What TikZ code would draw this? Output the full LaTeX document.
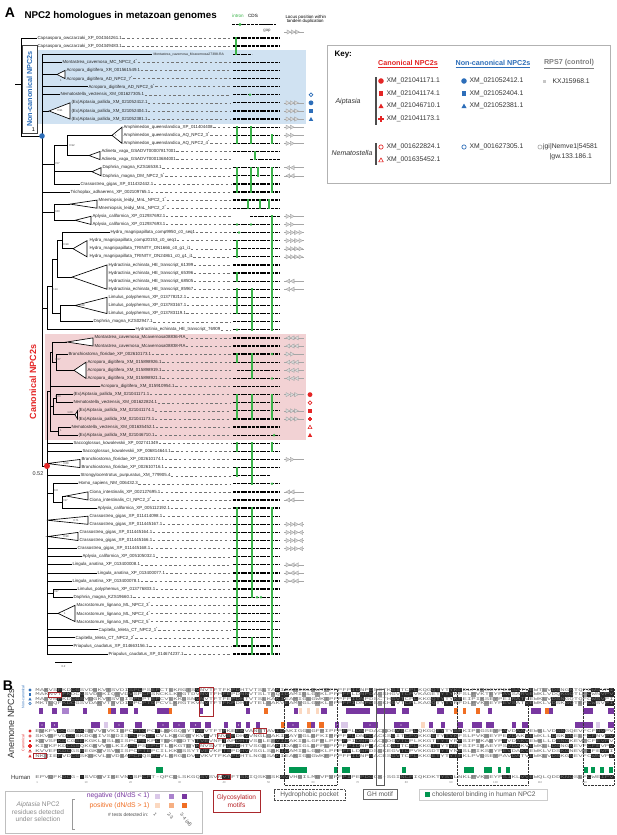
\documentclass[tikz,border=0pt]{standalone}
\usepackage{fontspec}
\setmainfont{Liberation Sans}
\newfontfamily\alnfont[Ligatures=TeXOff]{Liberation Mono}
\usetikzlibrary{calc}
\definecolor{ncblue}{RGB}{45,110,185}
\definecolor{canred}{RGB}{228,38,38}
\definecolor{ncbg}{RGB}{208,226,242}
\definecolor{canbg}{RGB}{242,210,212}
\definecolor{introncol}{RGB}{60,180,75}
\definecolor{selP}{RGB}{120,55,160}
\definecolor{selMP}{RGB}{170,130,205}
\definecolor{selLP}{RGB}{218,200,232}
\definecolor{selO}{RGB}{240,110,35}
\definecolor{selMO}{RGB}{246,175,130}
\definecolor{selLO}{RGB}{251,216,192}
\definecolor{cholgreen}{RGB}{0,150,80}
\definecolor{glycred}{RGB}{170,40,45}
\newcommand\rowy[1]{38+(#1-1)*8.105}
\newcommand\astk{\textsuperscript{*}}
\newcommand\leafl[4]{\node[leaflbl] (#1) at (#3,{\rowy{#2}}) {#4};\draw[dashline] (#1.east) -- (231,{\rowy{#2}});}
\newcommand\cladetri[5]{\draw[brl,fill=white] (#1,#2) -- (#3,{\rowy{#4}}) -- (#3,{\rowy{#5}}) -- cycle;}
\newcommand\locusarr[2]{\draw[gray!70,line width=0.4pt] (284,{\rowy{#1}}) -- (304,{\rowy{#1}});
  \foreach \d [count=\k] in {#2}{\if\d R\pic at ({286+(\k-1)*4.3},{\rowy{#1}}) {arrR};\else\pic at ({286+(\k-1)*4.3},{\rowy{#1}}) {arrL};\fi}}
\newcommand\alnrow[3]{%
  \foreach \c in {5,6,7,8,9,10,21,22,23,24,25,26,27,36,37,38,42,43,44,45,46,47,54,55,56,69,70,71,72,73,74,75,80,81,82,83,84,85,89,90,91,92,93,94,95,105,106,107,108,109,110,111,116,117,118,119,120,124,125,126,127,128,129}{%
    \pgfmathtruncatemacro\m{mod(\c*7+#2*5,9)}%
    \ifnum\m>3 \fill[black!85] ({35+\c*4.45},{#1-2.2}) rectangle ++(4.45,4.4);\fi}%
  \foreach \c in {1,2,3,12,13,14,15,16,17,18,19,29,30,31,32,33,34,50,51,52,53,58,59,60,61,62,63,64,65,66,77,78,98,99,100,101,102,103,113,114,122,123}{%
    \pgfmathtruncatemacro\m{mod(\c*5+#2*3,7)}%
    \ifnum\m>4 \fill[black!40] ({35+\c*4.45},{#1-2.2}) rectangle ++(4.45,4.4);\fi}%
  \node[aln] at (35,#1) {#3};}
\begin{document}
\begin{tikzpicture}[x=1pt,y=-1pt,
  leaflbl/.style={anchor=west,inner sep=0.3pt,font=\fontsize{4.4}{4.4}\selectfont,text=black!85},
  dashline/.style={black!55,line width=0.3pt,dash pattern=on 2.4pt off 2.4pt},
  brl/.style={line width=0.65pt,black},
  cdsline/.style={line width=1.3pt,black,dash pattern=on 3pt off 0.8pt},
  intronbar/.style={introncol,line width=1.8pt,line cap=rect},
  suppval/.style={font=\fontsize{2.8}{2.8}\selectfont,inner sep=0.2pt,text=black!70},
  keyitem/.style={anchor=west,inner sep=0.5pt,font=\fontsize{6.8}{6.8}\selectfont,text=black!80},
  keyhead/.style={font=\bfseries\fontsize{7.2}{7.2}\selectfont},
  aln/.style={anchor=west,inner sep=0pt,font=\alnfont\fontsize{4.2}{4.2}\selectfont,text=black!55,xscale=1.766},
  legtxt/.style={font=\fontsize{6.6}{7.4}\selectfont,align=center},
  mcirc/.pic={\fill (0,0) circle (1.15);},
  mocirc/.pic={\draw[line width=0.65pt] (0,0) circle (0.9);},
  msq/.pic={\fill (-0.9,-0.9) rectangle (0.9,0.9);},
  mtri/.pic={\fill (-1.05,0.85) -- (1.05,0.85) -- (0,-1.0) -- cycle;},
  motri/.pic={\draw[line width=0.6pt,line join=round] (-0.95,0.78) -- (0.95,0.78) -- (0,-0.9) -- cycle;},
  mplus/.pic={\fill (0,0) circle (0.72); \fill (-1.05,-0.38) rectangle (1.05,0.38); \fill (-0.38,-1.05) rectangle (0.38,1.05);},
  arrR/.pic={\filldraw[fill=gray!30,draw=gray!75,line width=0.3pt] (0,-2.1) -- (3.8,0) -- (0,2.1) -- cycle;},
  arrL/.pic={\filldraw[fill=gray!30,draw=gray!75,line width=0.3pt] (3.8,-2.1) -- (0,0) -- (3.8,2.1) -- cycle;}
]
\useasboundingbox (0,0) rectangle (617,835);
\fill[white] (0,0) rectangle (617,835);

% ---------- title and top legend
\node[font=\bfseries\fontsize{14}{14}\selectfont] (Alab) at (10,13) {A};
\node[anchor=west,font=\bfseries\fontsize{9.8}{9.8}\selectfont] (title) at (21,15.5) {NPC2 homologues in metazoan genomes};
\node[font=\fontsize{4.6}{4.6}\selectfont,text=introncol] (intlab) at (238,16) {intron};
\node[font=\fontsize{4.6}{4.6}\selectfont] (cdslab) at (253,16) {CDS};
\draw[cdsline] (232,24.5) -- (262,24.5);
\draw[black,line width=0.4pt] (262,24.5) -- (270,24.5);
\draw[cdsline] (270,24.5) -- (276,24.5);
\fill[introncol] (240,24.5) circle (1.7);
\node[font=\fontsize{4.3}{4.3}\selectfont,text=black!70] (gaplab) at (267,30.5) {gap};
\node[anchor=west,font=\fontsize{4.4}{4.4}\selectfont,align=left] (loclab) at (282,19.5) {Locus position within\\ \ tandem duplication};
\draw[gray!70,line width=0.4pt] (284,32) -- (304,32);
\foreach \k in {0,1,2} \pic at ({287+\k*4.3},32) {arrR};

% ---------- backgrounds
\fill[ncbg] (37,50) rectangle (306,123.5);
\fill[canbg] (45,334) rectangle (306,439.5);

% ---------- tree
\draw[brl] (21,38) -- (21,136);
\draw[brl] (15,84) -- (21,84);
\draw[brl] (21,{\rowy{1}}) -- (37,{\rowy{1}});
\draw[brl] (21,{\rowy{2}}) -- (37,{\rowy{2}});
\draw[brl] (21,136) -- (42,136);
\draw[brl] (42,{\rowy{3}}) -- (42,466);
% non-canonical
\draw[brl] (42,{\rowy{3}}) -- (152,{\rowy{3}});
\draw[brl] (42,{\rowy{4}}) -- (62,{\rowy{4}});
\draw[brl] (42,74.5) -- (57,74.5); \cladetri{57}{74.5}{65}{5}{6}
\draw[brl] (42,{\rowy{7}}) -- (88,{\rowy{7}});
\draw[brl] (42,{\rowy{8}}) -- (60,{\rowy{8}});
\draw[brl] (42,111) -- (49,111); \cladetri{49}{111}{70}{9}{11}
% upper groups
\draw[brl] (67,135.3) -- (67,155.5);
\draw[brl] (67,135.3) -- (112,135.3); \cladetri{112}{135.3}{122}{12}{14}
\draw[brl] (67,155.5) -- (89,155.5); \cladetri{89}{155.5}{100}{15}{16}
\draw[brl] (54,145.4) -- (54,183.9);
\draw[brl] (54,145.4) -- (67,145.4);
\draw[brl] (54,171.7) -- (92,171.7); \cladetri{92}{171.7}{101}{17}{18}
\draw[brl] (54,183.9) -- (80,183.9);
\draw[brl] (42,164.6) -- (54,164.6);
\draw[brl] (42,192) -- (70,192);
\draw[brl] (54,204.1) -- (54,220.3);
\draw[brl] (54,204.1) -- (70,204.1); \cladetri{70}{204.1}{97}{21}{22}
\draw[brl] (54,220.3) -- (75,220.3); \cladetri{75}{220.3}{91}{23}{24}
\draw[brl] (42,212.2) -- (54,212.2);
\draw[brl] (62,232.5) -- (62,248.7);
\draw[brl] (62,232.5) -- (110,232.5);
\draw[brl] (62,248.7) -- (73,248.7); \cladetri{73}{248.7}{87}{26}{28}
\draw[brl] (57,240.6) -- (57,277.1);
\draw[brl] (57,240.6) -- (62,240.6);
\draw[brl] (57,277.1) -- (72,277.1); \cladetri{72}{277.1}{107}{29}{32}
\draw[brl] (60,305.5) -- (60,321.7);
\draw[brl] (60,305.5) -- (75,305.5); \cladetri{75}{305.5}{107}{33}{35}
\draw[brl] (60,321.7) -- (93,321.7);
\draw[brl] (52,258.9) -- (52,313.6);
\draw[brl] (52,258.9) -- (57,258.9);
\draw[brl] (52,313.6) -- (60,313.6);
\draw[brl] (47,286.3) -- (47,329.8);
\draw[brl] (47,286.3) -- (52,286.3);
\draw[brl] (47,329.8) -- (135,329.8);
\draw[brl] (42,308) -- (47,308);
% canonical
\draw[brl] (52,342) -- (67,342); \cladetri{67}{342}{93}{38}{39}
\draw[brl] (56,354.1) -- (56,370.3);
\draw[brl] (56,354.1) -- (68,354.1);
\draw[brl] (56,370.3) -- (74,370.3); \cladetri{74}{370.3}{86}{41}{43}
\draw[brl] (52,342) -- (52,362.2);
\draw[brl] (52,362.2) -- (56,362.2);
\draw[brl] (50,386.5) -- (100,386.5);
\draw[brl] (56,394.6) -- (56,402.7);
\draw[brl] (56,394.6) -- (73,394.6);
\draw[brl] (56,402.7) -- (73,402.7);
\draw[brl] (53,414.8) -- (75,414.8); \cladetri{75}{414.8}{77.5}{47}{48}
\draw[brl] (53,398.6) -- (53,414.8);
\draw[brl] (53,398.6) -- (56,398.6);
\draw[brl] (58,427) -- (58,435.2);
\draw[brl] (58,427) -- (71,427);
\draw[brl] (58,435.2) -- (78,435.2);
\draw[brl] (50,352.1) -- (50,431.1);
\draw[brl] (50,352.1) -- (52,352.1);
\draw[brl] (50,406.7) -- (53,406.7);
\draw[brl] (50,431.1) -- (58,431.1);
\draw[brl] (47,391.6) -- (50,391.6);
% lower
\draw[brl] (47,391.6) -- (47,654);
\draw[brl] (42,466) -- (47,466);
\draw[brl] (47,443.3) -- (73,443.3);
\draw[brl] (47,451.4) -- (82,451.4);
\cladetri{47}{463.5}{80}{53}{54}
\draw[brl] (47,475.7) -- (80,475.7);
\draw[brl] (53,483.8) -- (53,502);
\draw[brl] (53,483.8) -- (78,483.8);
\draw[brl] (47,493) -- (53,493);
\draw[brl] (62,496) -- (62,508.1);
\draw[brl] (53,502) -- (62,502);
\draw[brl] (62,496) -- (66,496); \cladetri{66}{496}{88}{57}{58}
\draw[brl] (62,508.1) -- (97,508.1);
\cladetri{47}{520.2}{88}{60}{61}
\draw[brl] (47,536.5) -- (48,536.5); \cladetri{48}{536.5}{78}{62}{63}
\draw[brl] (47,548.6) -- (77,548.6);
\draw[brl] (47,556.7) -- (82,556.7);
\draw[brl] (47,564.8) -- (72,564.8);
\draw[brl] (47,572.9) -- (97,572.9);
\draw[brl] (47,581) -- (72,581);
\draw[brl] (53,589.1) -- (53,597.2);
\draw[brl] (47,593.2) -- (53,593.2);
\draw[brl] (53,589.1) -- (77,589.1);
\draw[brl] (53,597.2) -- (73,597.2);
\draw[brl] (47,613.4) -- (58,613.4); \cladetri{58}{613.4}{75}{71}{73}
\draw[brl] (47,629.6) -- (98,629.6);
\draw[brl] (47,637.7) -- (75,637.7);
\draw[brl] (47,645.8) -- (73,645.8);
\draw[brl] (47,654) -- (108,654);
% scale bar
\draw[brl] (55,662) -- (72,662);
\node[suppval] (scl) at (63.5,667) {0.2};

% support values
\foreach \x/\y/\t in {61/81/1, 60/111/0.91, 116/135.3/1, 72/146/0.92, 57/164/0.57, 57/212/0.83, 66/245/0.99, 55/290/0.14, 82/306/0.88, 58/360/0.57, 58/397/0.63, 70/413/1.00, 61/431/1, 66/463.5/0.88, 56/491/0.8, 65/501/0.97, 76/520.2/0.71, 66/536.5/0.98, 56/592/0.97, 65/613.4/1}
  \node[suppval] at (\x,\y) {\t};

% clade labels and dots
\node[draw=black!75,fill=white,line width=0.6pt,rotate=90,minimum width=88pt,minimum height=15pt,inner sep=0pt,font=\bfseries\fontsize{7.3}{7.3}\selectfont,text=ncblue] (ncbox) at (29.5,89) {Non-canonical NPC2s};
\node[font=\fontsize{5.5}{5.5}\selectfont] (sv1) at (33.5,130) {1};
\fill[ncblue] (42,136) circle (2.8);
\node[rotate=90,font=\bfseries\fontsize{9}{9}\selectfont,text=canred] (canlab) at (33,382) {Canonical NPC2s};
\fill[canred] (47,466) circle (3);
\node[font=\fontsize{5.5}{5.5}\selectfont,text=black!80] (sv2) at (38,473.5) {0.52};

% ---------- leaves
\leafl{l1}{1}{37}{Capsaspora\_owczarzaki\_XP\_004344261.1}
\leafl{l2}{2}{37}{Capsaspora\_owczarzaki\_XP\_004349483.1}
\node[leaflbl,font=\fontsize{3.4}{3.4}\selectfont] (l3) at (153,{\rowy{3}}) {Montastrea\_cavernosa\_Mcavernosa27398-RA};
\leafl{l4}{4}{62}{Montastrea\_cavernosa\_MC\_NPC2\_4\astk}
\leafl{l5}{5}{66}{Acropora\_digitifera\_XR\_001561549.1}
\leafl{l6}{6}{66}{Acropora\_digitifera\_AD\_NPC2\_7\astk}
\leafl{l7}{7}{88}{Acropora\_digitifera\_AD\_NPC2\_6\astk}
\leafl{l8}{8}{60}{Nematostella\_vectensis\_XM\_001627305.1}
\leafl{l9}{9}{71}{(Ex)Aiptasia\_pallida\_XM\_021052412.1}
\leafl{l10}{10}{71}{(Ex)Aiptasia\_pallida\_XM\_021052404.1}
\leafl{l11}{11}{71}{(Ex)Aiptasia\_pallida\_XM\_021052381.1}
\leafl{l12}{12}{123}{Amphimedon\_queenslandica\_XP\_011404408}
\leafl{l13}{13}{123}{Amphimedon\_queenslandica\_AQ\_NPC2\_3\astk}
\leafl{l14}{14}{123}{Amphimedon\_queenslandica\_AQ\_NPC2\_4\astk}
\leafl{l15}{15}{101}{Adineta\_vaga\_GSADVT00007817001}
\leafl{l16}{16}{101}{Adineta\_vaga\_GSADVT00013684001}
\leafl{l17}{17}{102}{Daphnia\_magna\_KZS16538.1}
\leafl{l18}{18}{102}{Daphnia\_magna\_DM\_NPC2\_5\astk}
\leafl{l19}{19}{80}{Crassostrea\_gigas\_XP\_011432442.1}
\leafl{l20}{20}{70}{Trichoplax\_adhaerens\_XP\_002109765.1}
\leafl{l21}{21}{98}{Mnemiopsis\_leidyi\_MnL\_NPC2\_1\astk}
\leafl{l22}{22}{98}{Mnemiopsis\_leidyi\_MnL\_NPC2\_2\astk}
\leafl{l23}{23}{92}{Aplysia\_californica\_XP\_012937692.1}
\leafl{l24}{24}{92}{Aplysia\_californica\_XP\_012937693.1}
\leafl{l25}{25}{110}{Hydra\_magnipapillata\_comp9950\_c0\_seq1}
\leafl{l26}{26}{89}{Hydra\_magnipapillata\_comp20153\_c0\_seq1}
\leafl{l27}{27}{89}{Hydra\_magnipapillata\_TRINITY\_DN1666\_c0\_g1\_i1}
\leafl{l28}{28}{89}{Hydra\_magnipapillata\_TRINITY\_DN24861\_c0\_g1\_i1}
\leafl{l29}{29}{108}{Hydractinia\_echinata\_HE\_transcript\_61399}
\leafl{l30}{30}{108}{Hydractinia\_echinata\_HE\_transcript\_65396}
\leafl{l31}{31}{108}{Hydractinia\_echinata\_HE\_transcript\_68505}
\leafl{l32}{32}{108}{Hydractinia\_echinata\_HE\_transcript\_85967}
\leafl{l33}{33}{108}{Limulus\_polyphemus\_XP\_013778212.1}
\leafl{l34}{34}{108}{Limulus\_polyphemus\_XP\_013783167.1}
\leafl{l35}{35}{108}{Limulus\_polyphemus\_XP\_013783119.1}
\leafl{l36}{36}{93}{Daphnia\_magna\_KZS02947.1}
\leafl{l37}{37}{135}{Hydractinia\_echinata\_HE\_transcript\_76909}
\leafl{l38}{38}{94}{Montastrea\_cavernosa\_Mcavernosa08836-RA}
\leafl{l39}{39}{94}{Montastrea\_cavernosa\_Mcavernosa08838-RA}
\leafl{l40}{40}{68}{Branchiostoma\_floridae\_XP\_002610173.1}
\leafl{l41}{41}{87}{Acropora\_digitifera\_XM\_015898926.1}
\leafl{l42}{42}{87}{Acropora\_digitifera\_XM\_015898919.1}
\leafl{l43}{43}{87}{Acropora\_digitifera\_XM\_015898921.1}
\leafl{l44}{44}{100}{Acropora\_digitifera\_XM\_015910954.1}
\leafl{l45}{45}{73}{(Ex)Aiptasia\_pallida\_XM\_021041171.1}
\leafl{l46}{46}{73}{Nematostella\_vectensis\_XM\_001622824.1}
\leafl{l47}{47}{78}{(Ex)Aiptasia\_pallida\_XM\_021041174.1}
\leafl{l48}{48}{78}{(Ex)Aiptasia\_pallida\_XM\_021041173.1}
\leafl{l49}{49}{71}{Nematostella\_vectensis\_XM\_001635452.1}
\leafl{l50}{50}{78}{(Ex)Aiptasia\_pallida\_XM\_021046710.1}
\leafl{l51}{51}{73}{Saccoglossus\_kowalevskii\_XP\_002741349}
\leafl{l52}{52}{82}{Saccoglossus\_kowalevskii\_XP\_006814644.1}
\leafl{l53}{53}{81}{Branchiostoma\_floridae\_XP\_002610174.1}
\leafl{l54}{54}{81}{Branchiostoma\_floridae\_XP\_002610716.1}
\leafl{l55}{55}{80}{Strongylocentrotus\_purpuratus\_XM\_779905.4}
\leafl{l56}{56}{78}{Homo\_sapiens\_NM\_006432.3}
\leafl{l57}{57}{89}{Ciona\_intestinalis\_XP\_002127695.1}
\leafl{l58}{58}{89}{Ciona\_intestinalis\_CI\_NPC2\_2\astk}
\leafl{l59}{59}{97}{Aplysia\_californica\_XP\_005112192.1}
\leafl{l60}{60}{89}{Crassostrea\_gigas\_XP\_011414098.1}
\leafl{l61}{61}{89}{Crassostrea\_gigas\_XP\_011445167.1}
\leafl{l62}{62}{79}{Crassostrea\_gigas\_XP\_011445164.1}
\leafl{l63}{63}{79}{Crassostrea\_gigas\_XP\_011445166.1}
\leafl{l64}{64}{77}{Crassostrea\_gigas\_XP\_011445168.1}
\leafl{l65}{65}{82}{Aplysia\_californica\_XP\_005105032.1}
\leafl{l66}{66}{72}{Lingula\_anatina\_XP\_013400008.1}
\leafl{l67}{67}{97}{Lingula\_anatina\_XP\_013400077.1}
\leafl{l68}{68}{72}{Lingula\_anatina\_XP\_013400078.1}
\leafl{l69}{69}{77}{Limulus\_polyphemus\_XP\_013776833.1}
\leafl{l70}{70}{73}{Daphnia\_magna\_KZS19660.1}
\leafl{l71}{71}{76}{Macrostomum\_lignano\_ML\_NPC2\_3\astk}
\leafl{l72}{72}{76}{Macrostomum\_lignano\_ML\_NPC2\_4\astk}
\leafl{l73}{73}{76}{Macrostomum\_lignano\_ML\_NPC2\_5\astk}
\leafl{l74}{74}{98}{Capitella\_teleta\_CT\_NPC2\_1\astk}
\leafl{l75}{75}{75}{Capitella\_teleta\_CT\_NPC2\_2\astk}
\leafl{l76}{76}{73}{Priapulus\_caudatus\_XP\_014663156.1}
\leafl{l77}{77}{108}{Priapulus\_caudatus\_XP\_014674237.1}

% ---------- gene structures
\foreach \r in {1,...,77}{%
  \pgfmathtruncatemacro\sk{(\r==3)||(\r==16)||(\r==23)||(\r==42)||(\r==55)}%
  \ifnum\sk=0 \draw[cdsline] (233,{\rowy{\r}}) -- (280,{\rowy{\r}});\fi}
\foreach \r/\a/\b in {3/233/252, 16/250/280, 23/250/280, 42/237/280, 55/233/270}
  \draw[cdsline] (\a,{\rowy{\r}}) -- (\b,{\rowy{\r}});
\foreach \x/\a/\b in {236/1/3, 237/12/14, 251/12/14, 272/13/14, 255/15/16, 237/17/20, 251/17/20, 258/17/18, 272/17/20, 248/21/22, 260/21/22, 269/21/22, 272/23/37, 237/26/28, 237/30/31, 237/32/35, 252/32/37, 237/40/41, 252/40/43, 237/45/48, 252/45/48, 272/45/48, 237/51/52, 252/51/56, 272/51/52, 237/54/55, 237/59/76, 252/59/70, 252/75/77, 272/59/77}
  \draw[intronbar] (\x,{\rowy{\a}}) -- (\x,{\rowy{\b}});
\foreach \x/\r in {250/8, 237/24, 251/24, 239/25, 237/37, 272/40, 272/43, 274/50, 272/56, 257/70, 261/70}
  \fill[introncol] (\x,{\rowy{\r}}) circle (1.4);

% ---------- locus arrows
\foreach \r in {9,10,11,45,47,48} {\locusarr{\r}{R,R,R}}
\foreach \r in {12,13,14,23,24,40,53} {\locusarr{\r}{R,R}}
\foreach \r in {17,18,31,32,57,58} {\locusarr{\r}{L,L}}
\foreach \r in {25,26,27,28} {\locusarr{\r}{R,R,R,R}}
\foreach \r in {38,39,41,42,43} {\locusarr{\r}{L,L,L}}
\foreach \r in {61,62,63,64} {\locusarr{\r}{R,R,R,L}}
\foreach \r in {66,67,68} {\locusarr{\r}{R,L,L}}

% ---------- right-side markers
\pic[ncblue,scale=2.1] at (311,{\rowy{8}}) {mocirc};
\pic[ncblue,scale=2.1] at (311,{\rowy{9}}) {mcirc};
\pic[ncblue,scale=2.1] at (311,{\rowy{10}}) {msq};
\pic[ncblue,scale=2.1] at (311,{\rowy{11}}) {mtri};
\pic[canred,scale=2.1] at (310,{\rowy{45}}) {mcirc};
\pic[canred,scale=2.1] at (310,{\rowy{46}}) {mocirc};
\pic[canred,scale=2.1] at (310,{\rowy{47}}) {msq};
\pic[canred,scale=2.1] at (310,{\rowy{48}}) {mplus};
\pic[canred,scale=2.1] at (310,{\rowy{49}}) {motri};
\pic[canred,scale=2.1] at (310,{\rowy{50}}) {mtri};

% ---------- key box
\draw[gray!60,line width=0.7pt] (327,45) rectangle (610,183);
\node[anchor=west,font=\bfseries\fontsize{8}{8}\selectfont] (keyt) at (331,55) {Key:};
\node[keyhead,text=canred] (kh1) at (408,64) {\underline{Canonical NPC2s}};
\node[keyhead,text=ncblue] (kh2) at (493,64) {\underline{Non-canonical NPC2s}};
\node[keyhead,text=gray] (kh3) at (569,64) {\underline{RPS7 (control)}};
\node[font=\itshape\fontsize{7}{7}\selectfont,text=black!80] (kaip) at (348,102) {Aiptasia};
\node[font=\itshape\fontsize{7}{7}\selectfont,text=black!80] (knem) at (352,153) {Nematostella};
\draw[black!70,line width=1.3pt] (376,77) -- (376,125);
\draw[black!70,line width=1.3pt] (376,143) -- (376,165);
\pic[canred,scale=2.4] at (381,81) {mcirc};
\pic[canred,scale=2.4] at (381,93.5) {msq};
\pic[canred,scale=2.4] at (381,106) {mtri};
\pic[canred,scale=2.4] at (381,119) {mplus};
\pic[canred,scale=2.4] at (381,147) {mocirc};
\pic[canred,scale=2.4] at (381,160) {motri};
\node[keyitem] (k1) at (386,81) {XM\_021041171.1};
\node[keyitem] (k2) at (386,93.5) {XM\_021041174.1};
\node[keyitem] (k3) at (386,106) {XM\_021046710.1};
\node[keyitem] (k4) at (386,119) {XM\_021041173.1};
\node[keyitem] (k5) at (386,147) {XM\_001622824.1};
\node[keyitem] (k6) at (386,160) {XM\_001635452.1};
\pic[ncblue,scale=2.4] at (464,81) {mcirc};
\pic[ncblue,scale=2.4] at (464,93.5) {msq};
\pic[ncblue,scale=2.4] at (464,106) {mtri};
\pic[ncblue,scale=2.4] at (464,147) {mocirc};
\node[keyitem] (k7) at (469,81) {XM\_021052412.1};
\node[keyitem] (k8) at (469,93.5) {XM\_021052404.1};
\node[keyitem] (k9) at (469,106) {XM\_021052381.1};
\node[keyitem] (k10) at (469,147) {XM\_001627305.1};
\fill[gray!45] (542.5,79.5) rectangle (545.5,82.5);
\node[keyitem] (k11) at (552,81) {KXJ15968.1};
\draw[gray!70,line width=0.6pt] (540,147) circle (2.1);
\node[keyitem] (k12) at (542.5,147) {jgi|Nemve1|54581};
\node[keyitem] (k13) at (549,157) {|gw.133.186.1};

% ---------- panel B
\node[font=\bfseries\fontsize{14}{14}\selectfont] (Blab) at (8,686) {B};
\node[rotate=90,font=\fontsize{9}{9}\selectfont,text=black!80] (anem) at (11,724) {Anemone NPC2s};
\node[rotate=90,font=\fontsize{3.6}{3.6}\selectfont,text=ncblue] (ncl) at (23,697) {Non-canonical};
\node[rotate=90,font=\fontsize{3.6}{3.6}\selectfont,text=canred] (cl) at (23,743) {Canonical};
\alnrow{690}{1}{MAKVSFKDCGSVDGKVTSVDISPCPSEPCTLKRGTSVNVTFTFKPDHTVTSLTAKIEAKIGLGWTPPFPFPIDNPDSCTKGITCPLKQGQTYTYKFDLPIKSEYPEISATVEWTLVDSNGKTQFCWSVPI}
\alnrow{694.5}{2}{MAKNVTFKDCGSVDGKIQSVDVSPCPSNCKLKRGTDVNVTFHFEPDNNVTSLTAQIDAMIGLGYKLPFPFPLDNPDACSHGVTCPVKAGETYTYKFSLPVKTEYPAVSARVEWKLVDQKGQTLFCWNVPV}
\alnrow{699}{3}{MASVNFKDCGSVDGKVTSVDISPCPTEPCVLKKGSNVNVTFTFEPDHTVTSLKAKIEAMIGLGWKIPFPFPIDNPDSCTHGVTCPLKKGQTYTYKFEIPIKSEYPEIRATVEWKLVDSNGQTQFCWSVPI}
\alnrow{703.5}{4}{MKTLQFKDCGSVDAKVTSVDISPCPTDPCVLKRGTKVNVTFTFKPDHTVTELSAKVEAMVGLGWKLPFPFPIDNPDSCKHGVTCPLKAGQTYTYRFDLPVKSEYPEVSATVEWKLVDSKGQTEFCWSVPI}
\alnrow{731}{5}{EVKFVDCGSAKGKVVSVKISPCPTQPCTLKKGQSYTVEVTFTPKEEKVANGTAVIDAKIGGLGFPIPFPFPLDNPDACKDGVSCPLQKGQTYTYSFKIPIGSEYPAVDAAVEWKLVDSNGQEVFCFNVPV}
\alnrow{736}{6}{SKVSFVDCGSKDGKIVSVDISPCPKEPCVLKKGDTYKVEVTNVSPDHVVNGLQAKIDAYIGLGFKIPFPFPLDNPDACKSGITCPVKKGETYTYKFSLPVKSEYPEVDAKVEWKLLDSKGNELFCFNVPV}
\alnrow{741}{7}{KIVSFKDCGSEKGKLVSLKISPCPEKPCTLKRGDTYTVEVNFTAPDHTVSGLEAVIDAKIGLGFPLPFPFPIDNPDACKDGVTCPLKKGTTYTYRFSIPVKAEYPSVDAKVEWKLLDSNGKEVFCFEVPV}
\alnrow{746}{8}{KIVKFKDCGSQKGKVVSLKIAPCPSEPCTLKKGTDYKNVSVTFQPDHTVSGLEAKIDAKIGLGFPLPFPFPIDNPDACKDGITCPLKKGTTYTYRFSIPIKAEYPSVDAKVEWKLLDSNGKEVFCFEVPV}
\alnrow{751}{9}{KVVEFKDCGSREGKVVSVNISPCPTEPCILKKGSSYTVEVKFTSPDHVVSGLSAKIDAMIGLGWKLPFPFPLDNPDSCKEGVTCPVKKGDTYTYNFSLPIKSEYPEVDAKVEWKLVDSKGNEVFCFEVPI}
\alnrow{756}{10}{NKTIEFVDCGSKGKVLSVDIAPCPQSPCVLKRGSDVSVKVTFKAPDHTLNGLSAKIEAKIGLGWKFPFPFPIDNPNACESGVTCPLKKGETYTYTFKLPVQSEYPAVDATVEWKLVDSKGNEVFCWNVPI}
\alnrow{777}{11}{EPVQFKDCG-\kern0pt-SVDGVIKEVNVSPCPT-QPCQLSKGQSYSVNVTFTSNIQSKSSKAVVHGILMGVPVPFPIPEPDGCK-SGINCPIQKDKTYSYLNKLPVKSEYPSIKLVVEWQLQDDKNQSLFCWEIPV}
% row markers
\pic[ncblue,scale=1.5] at (30,690) {mcirc};
\pic[ncblue,scale=1.5] at (30,694.5) {msq};
\pic[ncblue,scale=1.5] at (30,699) {mtri};
\pic[ncblue,scale=1.4] at (30,703.5) {mocirc};
\pic[canred,scale=1.5] at (30,731) {mcirc};
\pic[canred,scale=1.4] at (30,736) {mocirc};
\pic[canred,scale=1.5] at (30,741) {msq};
\pic[canred,scale=1.5] at (30,746) {mplus};
\pic[canred,scale=1.4] at (30,751) {motri};
\pic[canred,scale=1.5] at (30,756) {mtri};
\node[anchor=east,font=\fontsize{6}{6}\selectfont,text=black!80] (hum) at (34,777) {Human};
\foreach \n/\c in {1/0,10/11,20/21,30/32,40/42,50/52,60/62,70/72,80/83,90/93,100/103,110/113,120/123}
  \node[font=\fontsize{2.8}{2.8}\selectfont,text=gray] at ({37.2+\c*4.45},782.5) {\n};
% selection bars
\foreach \a/\b/\cl in {39/43/selP, 52/57/selP, 62/69/selMP, 83/87/selP, 108/111/selO, 111/116/selP, 120/128/selP, 134/138/selP, 157/169/selP, 169/172/selO, 199/203/selP, 246/250/selP, 264/268/selO, 294/298/selP, 299/302/selLO, 307/310/selLO, 316/319/selLO, 321/327/selP, 346/370/selP, 376/396/selP, 402/409/selP, 437/444/selP, 454/458/selO, 463/466/selO, 476/480/selO, 488/492/selP, 531/541/selP, 545/549/selO, 549/553/selP, 583/593/selP, 608/614/selP}
  \fill[\cl] (\a,708) rectangle (\b,714);
\foreach \a/\b/\cl in {39/45/selP, 51/58/selP, 91/100/selP, 104/108/selLP, 114/124/selP, 135/142/selP, 157/169/selP, 173/185/selP, 190/201/selP, 205/211/selP, 224/228/selP, 236/241/selP, 246/250/selP, 256/260/selP, 281/285/selO, 287/299/selP, 307/311/selO, 311/315/selP, 319/324/selO, 335/339/selP, 341/348/selLP, 363/378/selP, 394/409/selP, 421/425/selLO, 429/433/selP, 441/445/selP, 457/463/selP, 472/482/selP, 486/494/selP, 512/516/selP, 522/528/selP, 575/593/selP, 596/600/selLP, 608/614/selP}
  \fill[\cl] (\a,722) rectangle (\b,728);
\foreach \x in {42,54.5,119,163,179,195.5,238.5,293,337,370,401}
  \fill[white] (\x,725) circle (0.7);
% cholesterol binding bars
\foreach \a/\b in {156/163, 289/307, 334/338, 342/350, 402/406, 464/474, 484/492, 498/501, 506/510, 584/588, 591/595, 600/604, 609/613}
  \fill[cholgreen] (\a,767) rectangle (\b,773);
% region boxes
\foreach \a/\b in {284/337, 457/528, 583/614}
  \draw[black!80,line width=0.6pt,dash pattern=on 0.6pt off 0.8pt] (\a,689) rectangle (\b,785);
\draw[black!65,line width=0.5pt] (376,689) rectangle (384,785);
% glycosylation boxes
\draw[glycred,line width=0.7pt] (48.3,692) rectangle (61.7,697);
\draw[glycred,line width=0.7pt] (199.6,687) rectangle (213,716);
\draw[glycred,line width=0.7pt] (253,728.6) rectangle (266.5,733.4);
\draw[glycred,line width=0.7pt] (217.5,733.6) rectangle (230.8,738.4);
\draw[glycred,line width=0.7pt] (199.6,743.6) rectangle (213,748.4);
\draw[glycred,line width=0.7pt] (33,753.6) rectangle (46.5,758.4);
\draw[glycred,line width=0.7pt] (217.5,774.5) rectangle (230.8,779.5);

% ---------- panel B legend
\draw[gray!50,line width=0.7pt] (5,791) rectangle (202,833);
\node[legtxt,text=gray!90] (sellab) at (38,812) {\textit{Aiptasia} NPC2\\residues detected\\under selection};
\draw[gray!80,line width=0.5pt] (74.5,799) -- (72.5,799) -- (72.5,829) -- (74.5,829);
\node[anchor=east,font=\fontsize{6.8}{6.8}\selectfont,text=selP] (neglab) at (153,796) {negative (dN/dS < 1)};
\node[anchor=east,font=\fontsize{6.8}{6.8}\selectfont,text=selO] (poslab) at (153,805.5) {positive (dN/dS > 1)};
\fill[selLP] (155,793.5) rectangle (160,798.5);
\fill[selMP] (169,793.5) rectangle (174,798.5);
\fill[selP] (182,793.5) rectangle (187,798.5);
\fill[selLO] (155,803) rectangle (160,808);
\fill[selMO] (169,803) rectangle (174,808);
\fill[selO] (182,803) rectangle (187,808);
\node[anchor=east,font=\fontsize{4.8}{4.8}\selectfont,text=black!70] (testlab) at (152,815) {\# tests detected in:};
\node[anchor=north west,rotate=-50,font=\fontsize{4.6}{4.6}\selectfont,text=black!70,inner sep=0pt] (t1) at (155.5,812.5) {1};
\node[anchor=north west,rotate=-50,font=\fontsize{4.6}{4.6}\selectfont,text=black!70,inner sep=0pt] (t2) at (169.5,812.5) {2-3};
\node[anchor=north west,rotate=-50,font=\fontsize{4.6}{4.6}\selectfont,text=black!70,inner sep=0pt] (t3) at (182.5,812.5) {3-4 (all)};
\node[draw=glycred,line width=0.8pt,minimum width=47pt,minimum height=22pt,inner sep=0pt,legtxt,text=glycred!85!red] (glyc) at (236.5,801) {Glycosylation\\motifs};
\node[draw=black!70,line width=0.6pt,dash pattern=on 0.6pt off 0.8pt,minimum width=71pt,minimum height=11pt,inner sep=0pt,legtxt,text=black!65] (hyd) at (309.5,795) {Hydrophobic pocket};
\node[draw=black!60,line width=0.6pt,minimum width=34pt,minimum height=10pt,inner sep=0pt,legtxt,text=black!65] (ghm) at (380,794) {GH motif};
\node[draw=gray!40,line width=0.6pt,minimum width=128pt,minimum height=11pt,inner sep=0pt] (cholbox) at (483,794.5) {};
\fill[cholgreen] (424.5,792) rectangle (429.5,797);
\node[anchor=west,legtxt,text=black!65,inner sep=0pt] (chol) at (432,794.5) {cholesterol binding in human NPC2};
\end{tikzpicture}
\end{document}
